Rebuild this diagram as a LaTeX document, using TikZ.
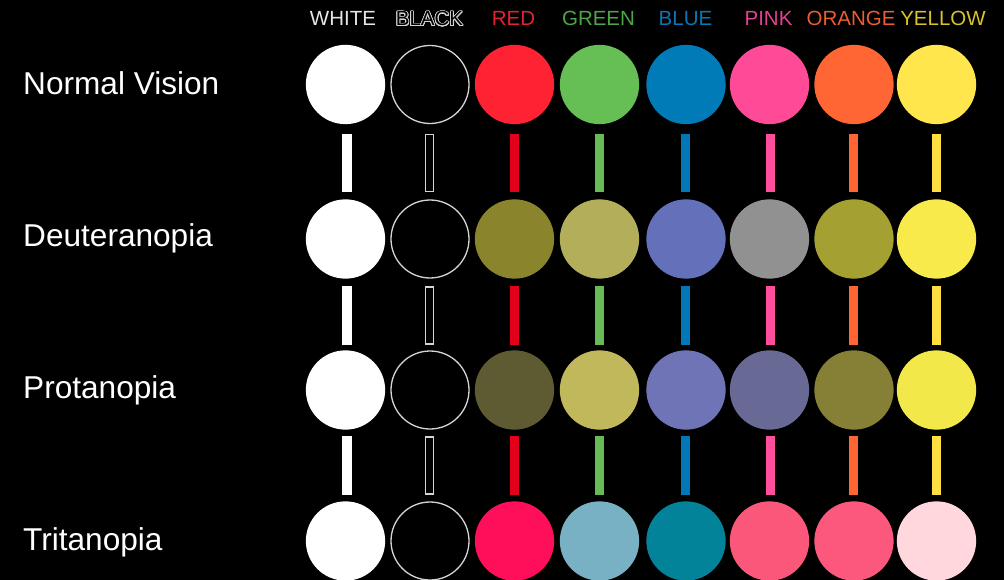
\documentclass[tikz,border=0pt]{standalone}
\usepackage{fontspec}
\setmainfont{Liberation Sans}
\usepackage{contour}
\contourlength{0.75pt}
\contournumber{32}
\definecolor{ringgray}{HTML}{D4D4D4}
\definecolor{nRed}{HTML}{FF2233}
\definecolor{nGreen}{HTML}{66BF55}
\definecolor{nBlue}{HTML}{007BB8}
\definecolor{nPink}{HTML}{FF4B97}
\definecolor{nOrange}{HTML}{FF6633}
\definecolor{nYellow}{HTML}{FFE64C}
\definecolor{dRed}{HTML}{8A852D}
\definecolor{dGreen}{HTML}{B2AE5A}
\definecolor{dBlue}{HTML}{6470BA}
\definecolor{dPink}{HTML}{919191}
\definecolor{dOrange}{HTML}{A5A032}
\definecolor{dYellow}{HTML}{F7EA4A}
\definecolor{pRed}{HTML}{5E5A32}
\definecolor{pGreen}{HTML}{C1B85C}
\definecolor{pBlue}{HTML}{6E74B6}
\definecolor{pPink}{HTML}{686A95}
\definecolor{pOrange}{HTML}{867F36}
\definecolor{pYellow}{HTML}{F2E84A}
\definecolor{tRed}{HTML}{FF0E5A}
\definecolor{tGreen}{HTML}{78B1C4}
\definecolor{tBlue}{HTML}{03839A}
\definecolor{tPink}{HTML}{FA577A}
\definecolor{tOrange}{HTML}{FC577C}
\definecolor{tYellow}{HTML}{FFD7DD}
\definecolor{bRed}{HTML}{E3001B}
\definecolor{bGreen}{HTML}{66BB55}
\definecolor{bBlue}{HTML}{0077B6}
\definecolor{bPink}{HTML}{FF4F9C}
\definecolor{bOrange}{HTML}{FF6633}
\definecolor{bYellow}{HTML}{FFE040}
\definecolor{hWhite}{HTML}{E6E6E6}
\definecolor{hRed}{HTML}{E5202F}
\definecolor{hGreen}{HTML}{4BA745}
\definecolor{hBlue}{HTML}{0A76B4}
\definecolor{hPink}{HTML}{E0428E}
\definecolor{hOrange}{HTML}{EB5E2E}
\definecolor{hYellow}{HTML}{D9C22E}
\begin{document}
\begin{tikzpicture}[x=1pt,y=-1pt,
  dot/.style={circle,inner sep=0pt,minimum size=78pt,line width=1.3pt},
  bar/.style={rectangle,inner sep=0pt,minimum width=8.3pt,minimum height=56.8pt,line width=1.3pt},
  head/.style={anchor=base,inner sep=0pt,font=\fontsize{20.5}{24}\selectfont},
  rowlabel/.style={anchor=base west,inner sep=0pt,text=white,font=\fontsize{31.6}{36}\selectfont}]
\fill[black] (0,0) rectangle (1004,580);
\useasboundingbox (0,0) rectangle (1004,580);
% headers
\node[head,text=hWhite] (hW) at (343,26) {WHITE};
\node[head] (hK) at (429.5,26) {\contour{ringgray}{\textcolor{black}{BLACK}}};
\node[head,text=hRed] (hR) at (513.5,26) {RED};
\node[head,text=hGreen] (hG) at (598.5,26) {GREEN};
\node[head,text=hBlue] (hB) at (685.5,26) {BLUE};
\node[head,text=hPink] (hP) at (768.5,26) {PINK};
\node[head,text=hOrange] (hO) at (851,26) {ORANGE};
\node[head,text=hYellow] (hY) at (943,26) {YELLOW};
% row labels
\node[rowlabel] (lN) at (23,94.5) {Normal Vision};
\node[rowlabel] (lD) at (23,247) {Deuteranopia};
\node[rowlabel] (lP) at (23,398) {Protanopia};
\node[rowlabel] (lT) at (23,550) {Tritanopia};
% circles
\foreach \r/\y/\p in {n/84.5/n, d/239/d, p/390/p, t/541/t}{
  \node[dot,fill=white,draw=white] (\r1) at (345.5,\y) {};
  \node[dot,fill=black,draw=ringgray] (\r2) at (430,\y) {};
  \foreach \x/\c [count=\i from 3] in {514.5/Red,599.5/Green,686/Blue,769.5/Pink,854/Orange,936.5/Yellow}{
    \node[dot,fill=\p\c,draw=\p\c] (\r\i) at (\x,\y) {};
  }
}
% bars
\foreach \k/\y in {1/163,2/315.5,3/465.5}{
  \node[bar,fill=white,draw=white] (b\k-1) at (347,\y) {};
  \node[bar,fill=black,draw=ringgray] (b\k-2) at (429.5,\y) {};
  \foreach \x/\c [count=\i from 3] in {514.5/Red,599.5/Green,685.5/Blue,770.5/Pink,853.5/Orange,936.5/Yellow}{
    \node[bar,fill=b\c,draw=b\c] (b\k-\i) at (\x,\y) {};
  }
}
\end{tikzpicture}
\end{document}
